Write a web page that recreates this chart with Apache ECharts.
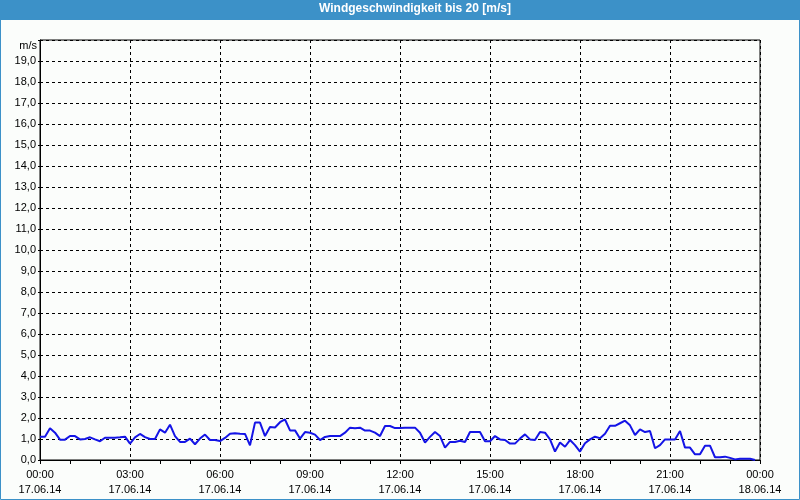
<!DOCTYPE html>
<html><head><meta charset="utf-8">
<script src="https://cdn.jsdelivr.net/npm/echarts@6/dist/echarts.min.js"></script>
<style>html,body{margin:0;padding:0;background:#fbfdfb}#c{width:800px;height:500px}</style>
</head><body><div id="c"></div>
<script>
const titleText = 'Windgeschwindigkeit bis 20 [m/s]';
const unitLabel = 'm/s';
const startDate = '17.06.14';
const endDate = '18.06.14';
const hourTicks = [0, 3, 6, 9, 12, 15, 18, 21, 24];
const times = [
'00:00','00:10','00:20','00:30','00:40','00:50','01:00','01:10','01:20','01:30','01:40','01:50',
'02:00','02:10','02:20','02:30','02:40','02:50','03:00','03:10','03:20','03:30','03:40','03:50',
'04:00','04:10','04:20','04:30','04:40','04:50','05:00','05:10','05:20','05:30','05:40','05:50',
'06:00','06:10','06:20','06:30','06:40','06:50','07:00','07:10','07:20','07:30','07:40','07:50',
'08:00','08:10','08:20','08:30','08:40','08:50','09:00','09:10','09:20','09:30','09:40','09:50',
'10:00','10:10','10:20','10:30','10:40','10:50','11:00','11:10','11:20','11:30','11:40','11:50',
'12:00','12:10','12:20','12:30','12:40','12:50','13:00','13:10','13:20','13:30','13:40','13:50',
'14:00','14:10','14:20','14:30','14:40','14:50','15:00','15:10','15:20','15:30','15:40','15:50',
'16:00','16:10','16:20','16:30','16:40','16:50','17:00','17:10','17:20','17:30','17:40','17:50',
'18:00','18:10','18:20','18:30','18:40','18:50','19:00','19:10','19:20','19:30','19:40','19:50',
'20:00','20:10','20:20','20:30','20:40','20:50','21:00','21:10','21:20','21:30','21:40','21:50',
'22:00','22:10','22:20','22:30','22:40','22:50','23:00','23:10','23:20','23:30','23:40','23:50'
];
const speeds = [
1.11,1.11,1.51,1.30,0.97,0.97,1.14,1.14,0.98,1.00,
1.08,0.98,0.89,1.06,1.06,1.06,1.08,1.11,0.78,1.08,
1.24,1.09,1.00,1.00,1.46,1.30,1.68,1.14,0.86,0.86,
1.02,0.75,1.02,1.21,0.95,0.95,0.90,1.05,1.25,1.27,
1.25,1.24,0.70,1.78,1.78,1.14,1.57,1.55,1.80,1.93,
1.41,1.41,1.02,1.33,1.30,1.21,0.95,1.10,1.14,1.14,
1.14,1.30,1.54,1.51,1.54,1.40,1.40,1.30,1.14,1.62,
1.62,1.52,1.52,1.54,1.54,1.54,1.30,0.83,1.10,1.33,
1.14,0.59,0.86,0.86,0.92,0.86,1.33,1.33,1.33,0.89,
0.89,1.14,0.98,0.95,0.78,0.78,1.02,1.22,0.98,0.95,
1.33,1.30,0.98,0.40,0.83,0.63,0.95,0.71,0.40,0.80,
0.98,1.11,1.04,1.25,1.63,1.63,1.75,1.87,1.65,1.19,
1.46,1.33,1.38,0.56,0.71,0.98,0.98,0.98,1.38,0.59,
0.59,0.27,0.27,0.68,0.68,0.13,0.13,0.16,0.10,0.03,
0.06,0.06,0.06,0.00
];

function toHours(t) { const p = t.split(':'); return +p[0] + (+p[1]) / 60; }
const seriesData = times.map((t, i) => [toHours(t), speeds[i]]);
const pad = n => (n < 10 ? '0' : '') + n;
const font = 'Liberation Sans';
const blue = '#3c91c8';

const chart = echarts.init(document.getElementById('c'), null, {renderer: 'canvas'});
chart.setOption({
  animation: false,
  backgroundColor: '#fbfdfb',
  title: {
    text: titleText, left: 415, top: 3, textAlign: 'center', padding: 0,
    textStyle: {color: '#ffffff', fontFamily: font, fontSize: 12, fontWeight: 'bold'}
  },
  graphic: [
    {type: 'rect', z: -10, shape: {x: 0, y: 0, width: 800, height: 20}, style: {fill: blue}},
    {type: 'rect', z: -10, shape: {x: 0.5, y: 0.5, width: 799, height: 499}, style: {fill: null, stroke: blue, lineWidth: 1}},
    {type: 'text', x: 37, y: 46, style: {text: unitLabel, align: 'right', verticalAlign: 'middle', fontFamily: font, fontSize: 11, fill: '#000'}}
  ],
  grid: {left: 40, right: 40, top: 40, bottom: 40, show: true, borderColor: '#000', borderWidth: 1, backgroundColor: 'transparent'},
  xAxis: {
    type: 'value', min: hourTicks[0], max: hourTicks[hourTicks.length - 1], interval: 3,
    axisLine: {lineStyle: {color: '#000', width: 1}},
    axisTick: {show: true, length: 4, lineStyle: {color: '#000'}},
    minorTick: {show: true, splitNumber: 3, length: 4, lineStyle: {color: '#000'}},
    splitLine: {show: true, lineStyle: {color: '#000', type: [3, 3], width: 1}},
    axisLabel: {
      margin: 7, color: '#000', fontFamily: font, fontSize: 11, lineHeight: 15,
      formatter: v => pad(v % 24) + ':00\n' + (v < 24 ? startDate : endDate)
    }
  },
  yAxis: {
    type: 'value', min: 0, max: 20, interval: 1,
    axisLine: {show: true, lineStyle: {color: '#000', width: 1}},
    axisTick: {show: true, length: 2, lineStyle: {color: '#000'}},
    splitLine: {show: true, lineStyle: {color: '#000', type: [3, 3], width: 1}},
    axisLabel: {
      margin: 4, color: '#000', fontFamily: font, fontSize: 11,
      formatter: v => v === 20 ? '' : v.toFixed(1).replace('.', ',')
    }
  },
  series: [{
    type: 'line', data: seriesData, showSymbol: false, symbol: 'none',
    lineStyle: {color: '#1414e6', width: 2}, z: 5
  }]
});
</script>
</body></html>
